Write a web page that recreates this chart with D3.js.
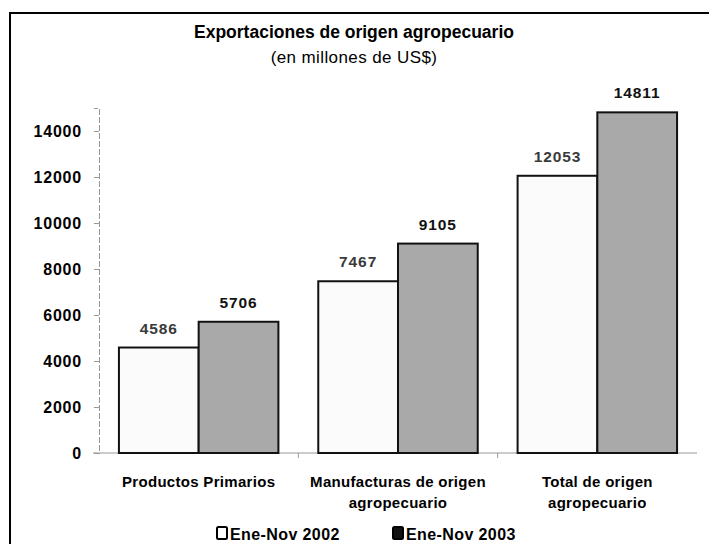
<!DOCTYPE html>
<meta charset="utf-8">
<style>
	body { margin: 0; background: #fff; }
	text { font-family: "Liberation Sans", Arial, sans-serif; }
	.title { font-size: 17.5px; font-weight: bold; }
	.sub { font-size: 17px; letter-spacing: 0.4px; }
	.tick text { font-size: 16px; font-weight: bold; fill: #000; letter-spacing: 0.8px; }
	.val { font-size: 15.5px; font-weight: bold; letter-spacing: 0.9px; }
	.cat { font-size: 15px; font-weight: bold; letter-spacing: 0.3px; }
	.leg { font-size: 16px; font-weight: bold; letter-spacing: 0.4px; }
</style>
<body>
<script src="https://d3js.org/d3.v7.min.js"></script>
<script>
var categories = ["Productos Primarios", "Manufacturas de origen agropecuario", "Total de origen agropecuario"];
var categoryLines = [["Productos Primarios"], ["Manufacturas de origen", "agropecuario"], ["Total de origen", "agropecuario"]];
var series = ["Ene-Nov 2002", "Ene-Nov 2003"];
var values2002 = [4586, 7467, 12053];
var values2003 = [5706, 9105, 14811];
var yTicks = [0, 2000, 4000, 6000, 8000, 10000, 12000, 14000];

var width = 709, height = 544;
var margin = {top: 108, left: 99, right: 12, bottom: 91};

var svg = d3.select("body").append("svg")
	.attr("width", width)
	.attr("height", height);

// frame (only left and top edges show in the picture)
svg.append("path")
	.attr("d", "M10," + height + "V13H" + width)
	.attr("fill", "none")
	.attr("stroke", "#000")
	.attr("stroke-width", 2);

svg.append("text").attr("class", "title")
	.attr("x", 354).attr("y", 38).attr("text-anchor", "middle")
	.text("Exportaciones de origen agropecuario");
svg.append("text").attr("class", "sub")
	.attr("x", 354).attr("y", 63).attr("text-anchor", "middle")
	.text("(en millones de US$)");

var x0 = d3.scaleBand()
	.domain(categories)
	.range([margin.left, width - margin.right])
	.paddingInner(0.2)
	.paddingOuter(0.1);

var x1 = d3.scaleBand()
	.domain(series)
	.range([0, x0.bandwidth()]);

var y = d3.scaleLinear()
	.domain([0, 15000])
	.range([height - margin.bottom, margin.top]);

var color = d3.scaleOrdinal().domain(series).range(["#fbfbfb", "#a9a9a9"]);

// y axis
var gy = svg.append("g")
	.attr("transform", "translate(" + margin.left + ",0)")
	.call(d3.axisLeft(y).tickValues(yTicks).tickSize(5).tickPadding(12).tickFormat(d3.format("d")));
gy.select(".domain").attr("stroke", "#999").attr("stroke-dasharray", "6,2");
gy.selectAll(".tick line").attr("stroke", "#999");

// x axis
var gx = svg.append("g")
	.attr("transform", "translate(0," + y(0) + ")");
gx.append("line")
	.attr("x1", margin.left - 6).attr("x2", width - margin.right)
	.attr("stroke", "#999");
gx.selectAll(".sep")
	.data(categories.slice(1))
	.enter().append("line")
	.attr("x1", function(d) { return x0(d) - x0.step() * 0.1; })
	.attr("x2", function(d) { return x0(d) - x0.step() * 0.1; })
	.attr("y1", 0).attr("y2", 5)
	.attr("stroke", "#999");

var rows = [];
categories.forEach(function(c, i) {
	rows.push({cat: c, s: series[0], v: values2002[i]});
	rows.push({cat: c, s: series[1], v: values2003[i]});
});

svg.selectAll(".bar")
	.data(rows)
	.enter().append("rect")
	.attr("class", "bar")
	.attr("x", function(d) { return x0(d.cat) + x1(d.s); })
	.attr("y", function(d) { return y(d.v); })
	.attr("width", x1.bandwidth())
	.attr("height", function(d) { return y(0) - y(d.v); })
	.attr("fill", function(d) { return color(d.s); })
	.attr("stroke", "#111")
	.attr("stroke-width", 2);

svg.selectAll(".val")
	.data(rows)
	.enter().append("text")
	.attr("class", "val")
	.attr("x", function(d) { return x0(d.cat) + x1(d.s) + x1.bandwidth() / 2; })
	.attr("y", function(d) { return y(d.v) - 14; })
	.attr("text-anchor", "middle")
	.attr("fill", function(d) { return d.s === series[1] ? "#111" : "#3a3a3a"; })
	.text(function(d) { return d.v; });

// category labels
var cl = svg.selectAll(".cat")
	.data(categories)
	.enter().append("text")
	.attr("class", "cat")
	.attr("text-anchor", "middle")
	.attr("x", function(d) { return x0(d) + x0.bandwidth() / 2; })
	.attr("y", 487);
cl.selectAll("tspan")
	.data(function(d, i) { return categoryLines[i]; })
	.enter().append("tspan")
	.attr("x", function() { return this.parentNode.getAttribute("x"); })
	.attr("dy", function(d, i) { return i === 0 ? 0 : 21; })
	.text(function(d) { return d; });

// legend
var legX = [217, 393];
var leg = svg.selectAll(".legitem")
	.data(series)
	.enter().append("g")
	.attr("transform", function(d, i) { return "translate(" + legX[i] + ",527)"; });
leg.append("rect")
	.attr("width", 10).attr("height", 12)
	.attr("rx", 1.5)
	.attr("fill", function(d, i) { return i === 0 ? "#fff" : "#111"; })
	.attr("stroke", "#000").attr("stroke-width", 2);
leg.append("text").attr("class", "leg")
	.attr("x", 13).attr("y", 13)
	.text(function(d) { return d; });
</script>
</body>
